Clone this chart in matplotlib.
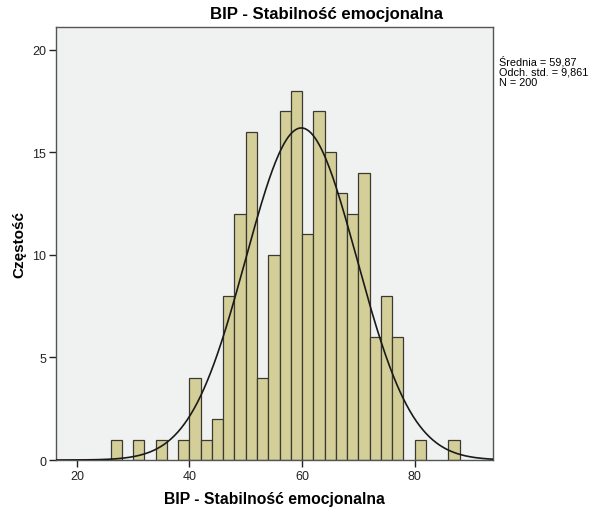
import numpy as np
import matplotlib
matplotlib.use("Agg")
import matplotlib.pyplot as plt

plt.rcParams['font.family'] = ['Liberation Sans', 'DejaVu Sans']

bin_left = [26, 30, 34, 38, 40, 42, 44, 46, 48, 50, 52, 54, 56, 58,
            60, 62, 64, 66, 68, 70, 72, 74, 76, 80, 86]
counts = [1, 1, 1, 1, 4, 1, 2, 8, 12, 16, 4, 10, 17, 18,
          11, 17, 15, 13, 12, 14, 6, 8, 6, 1, 1]
bin_width = 2
mean = 59.87
sd = 9.861
n = 200

fig = plt.figure(figsize=(5.96, 5.10), dpi=100)
ax = fig.add_axes([0.094, 0.096, 0.733, 0.849])
ax.set_facecolor('#f0f1f1')

ax.bar(bin_left, counts, width=bin_width, align='edge',
       color='#d4cf98', edgecolor='#3a3a32', linewidth=0.9, zorder=2)

# krzywa normalna
x = np.linspace(16, 94, 400)
y = n * bin_width * np.exp(-0.5 * ((x - mean) / sd) ** 2) / (sd * np.sqrt(2 * np.pi))
ax.plot(x, y, color='#1a1a1a', linewidth=1.2, zorder=3)

ax.set_xlim(16.3, 93.9)
ax.set_ylim(0, 21.1)
ax.set_xticks([20, 40, 60, 80])
ax.set_yticks([0, 5, 10, 15, 20])
ax.tick_params(direction='out', length=5, width=1, labelsize=9, colors='#222222', pad=2)
for s in ax.spines.values():
    s.set_color('#555555')
    s.set_linewidth(1)

ax.set_xlabel('BIP - Stabilność emocjonalna', fontsize=11.3, fontweight='bold', labelpad=6.5)
ax.set_ylabel('Częstość', fontsize=11, fontweight='bold', labelpad=4)
fig.text(0.547, 0.972, 'BIP - Stabilność emocjonalna', fontsize=12.1, fontweight='bold',
         ha='center', va='center')

fig.text(0.838, 0.89, 'Średnia = 59,87\nOdch. std. = 9,861\nN = 200',
         fontsize=7.8, va='top', ha='left', linespacing=1.0,
         family=['Liberation Sans Narrow', 'Liberation Sans', 'DejaVu Sans'])

fig.savefig('out.png', dpi=100, facecolor='white')
